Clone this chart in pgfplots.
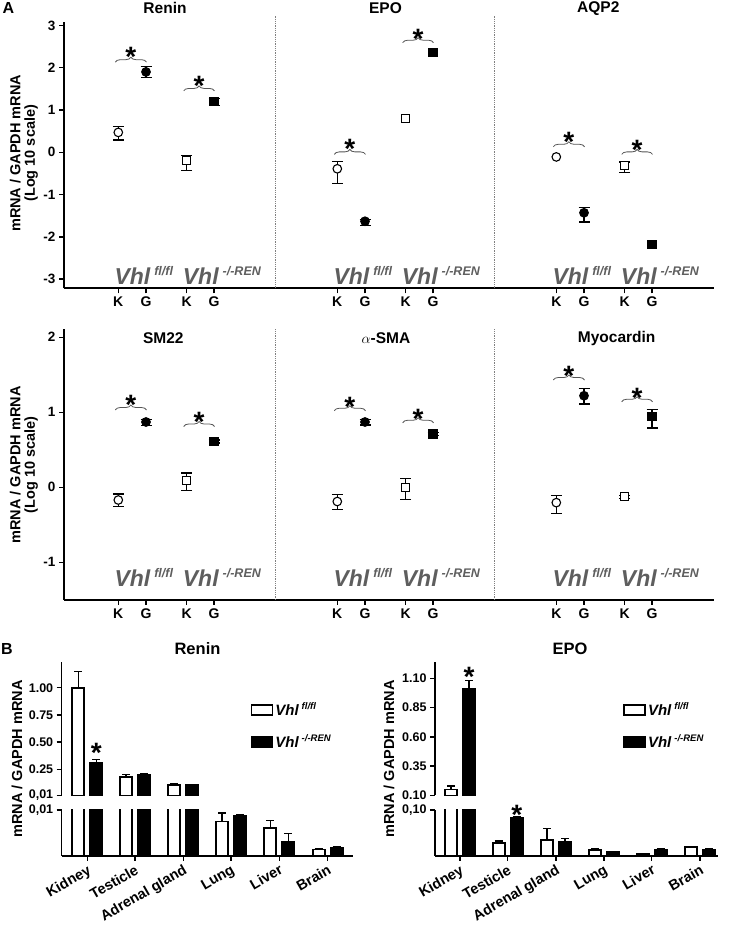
\documentclass[border=0pt]{standalone}
\usepackage{pgfplots}
\pgfplotsset{compat=1.18}
\usepackage{pgfplotstable}
\usepackage{fontspec}
\setmainfont{Liberation Sans}
\usetikzlibrary{decorations.pathreplacing}
\definecolor{vgray}{HTML}{5E5E5E}
\definecolor{bgray}{HTML}{555555}
\newcommand{\fs}[1]{\fontsize{#1}{#1}\selectfont}
\newcommand{\vhlA}[1]{\textcolor{vgray}{\bfseries\itshape\fs{23}Vhl\hspace{4pt}\raisebox{9pt}{\fs{12.5}#1}}}
\newcommand{\vhlB}[1]{\bfseries\itshape\fs{15}Vhl\hspace{3pt}\raisebox{6pt}{\fs{9.5}#1}}
\newcommand{\brk}[5]{%
  \draw[bgray, line width=0.8pt, decorate, decoration={brace, amplitude=5pt}] (axis cs:#1,#3) -- (axis cs:#2,#3);
  \node[anchor=base, yshift=-16pt, inner sep=0pt] at (axis cs:#5,#4) {\bfseries\fs{28}*};}

% ---- Panel A, top row (log10 mRNA/GAPDH) ----
\pgfplotstableread{
x y ep em
118.3 0.47 0.13 0.18
146 1.90 0.12 0.14
186.7 -0.20 0.13 0.24
214 1.21 0.06 0.11
337.3 -0.39 0.18 0.35
365 -1.63 0.04 0.11
584 -1.43 0.12 0.22
624.7 -0.32 0.09 0.16
}\errTop
\pgfplotstableread{
x y
118.3 0.47
337.3 -0.39
556.3 -0.11
}\ocTop
\pgfplotstableread{
x y
146 1.90
365 -1.63
584 -1.43
}\fcTop
\pgfplotstableread{
x y
186.7 -0.20
405.7 0.80
624.7 -0.32
}\osTop
\pgfplotstableread{
x y
214 1.21
433 2.35
652 -2.18
}\fsTop

% ---- Panel A, bottom row ----
\pgfplotstableread{
x y ep em
118.3 -0.17 0.08 0.09
146 0.87 0.03 0.05
186.7 0.09 0.10 0.13
214 0.61 0.02 0.02
337.3 -0.19 0.09 0.11
365 0.87 0.03 0.04
405.7 0.00 0.12 0.16
433 0.71 0.02 0.02
556.3 -0.205 0.09 0.145
584 1.22 0.10 0.11
624.7 -0.125 0.02 0.02
652 0.94 0.10 0.15
}\errBot
\pgfplotstableread{
x y
118.3 -0.17
337.3 -0.19
556.3 -0.205
}\ocBot
\pgfplotstableread{
x y
146 0.87
365 0.87
584 1.22
}\fcBot
\pgfplotstableread{
x y
186.7 0.09
405.7 0.00
624.7 -0.125
}\osBot
\pgfplotstableread{
x y
214 0.61
433 0.71
652 0.94
}\fsBot

% ---- Panel B (all bars, lower segment) ----
\pgfplotstableread{
x y e
87.3 1.00 0.147
135 0.183 0.022
183.3 0.105 0.013
231 0.0075 0.0018
279.3 0.0061 0.0016
327.7 0.0014 0.0002
}\reninW
\pgfplotstableread{
x y e
87.3 0.306 0.036
135 0.20 0.01
183.3 0.103 0.005
231 0.0087 0.0002
279.3 0.0030 0.0019
327.7 0.0018 0.0002
}\reninB
\pgfplotstableread{
x y e
460 0.151 0.028
507.7 0.0276 0.005
556 0.0348 0.025
604 0.013 0.002
651.7 0.0043 0.0005
700 0.019 0.002
}\epoW
\pgfplotstableread{
x y e
460 1.009 0.071
507.7 0.0833 0.002
556 0.0298 0.0087
604 0.0087 0.001
651.7 0.013 0.002
700 0.0137 0.002
}\epoB
% bars that reach the upper segment
\pgfplotstableread{
x y e
87.3 1.00 0.147
135 0.183 0.022
183.3 0.105 0.013
}\reninWu
\pgfplotstableread{
x y e
87.3 0.306 0.036
135 0.20 0.01
183.3 0.103 0.005
}\reninBu
\pgfplotstableread{
x y e
460 0.151 0.028
}\epoWu
\pgfplotstableread{
x y e
460 1.009 0.071
}\epoBu

\pgfplotsset{
  panelA/.style={scale only axis, width=650pt, axis lines*=left,
    axis line style={-, line width=1.6pt},
    tick align=outside, major tick length=5pt, tick style={line width=1.4pt, black},
    clip mode=individual, xmin=64, xmax=714,
    xtick={118.3,146,186.7,214,337.3,365,405.7,433,556.3,584,624.7,652},
    xticklabels={K,G,K,G,K,G,K,G,K,G,K,G},
    x tick label style={font=\bfseries\fs{14}},
    y tick label style={font=\bfseries\fs{13.5}}},
  errA/.style={only marks, mark=none, forget plot,
    error bars/.cd, y dir=both, y explicit,
    error bar style={line width=1.2pt, black},
    error mark options={rotate=90, mark size=5.5pt, line width=1.2pt, black}},
  oc/.style={only marks, mark=*, mark size=4.3pt, mark options={fill=white, draw=black, line width=1.1pt}},
  fc/.style={only marks, mark=*, mark size=4.3pt, mark options={fill=black, draw=black, line width=1.1pt}},
  os/.style={only marks, mark=square*, mark size=4pt, mark options={fill=white, draw=black, line width=1.1pt}},
  fsq/.style={only marks, mark=square*, mark size=4pt, mark options={fill=black, draw=black, line width=1.1pt}},
  panelB/.style={scale only axis, ybar, bar width=12pt,
    axis line style={-, line width=1.6pt},
    tick align=outside, major tick length=5pt, tick style={line width=1.4pt, black},
    clip mode=individual, scaled y ticks=false,
    y tick label style={font=\bfseries\fs{12.5}},
    error bars/y dir=plus, error bars/y explicit,
    error bars/error bar style={line width=1.5pt, black},
    error bars/error mark options={rotate=90, mark size=4pt, line width=1.5pt, black}},
  Bup/.style={panelB, axis x line=none, axis y line*=left, height=133.8pt},
  Blow/.style={panelB, axis lines*=left, height=46pt, ymin=0,
    x tick label style={rotate=30, anchor=north east, font=\bfseries\fs{14.5}, inner sep=2pt},
    xticklabels={Kidney,Testicle,Adrenal gland,Lung,Liver,Brain}},
  wbar/.style={fill=white, draw=black, line width=1.8pt, bar shift=-9pt, forget plot},
  bbar/.style={fill=black, draw=black, line width=1.8pt, bar shift=9pt, forget plot},
  Bleg/.style={legend image code/.code={\draw[##1, line width=1.6pt] (0pt,-5pt) rectangle (21pt,5pt);},
    legend style={draw=none, fill=none, inner sep=0pt, row sep=14pt,
      /tikz/every even column/.append style={column sep=8pt}},
    legend cell align=left}
}

\begin{document}
\begin{tikzpicture}[x=1pt,y=1pt]
\useasboundingbox (0,0) rectangle (728,925);

% ===== Panel A top row =====
\begin{axis}[panelA, at={(64pt,636.7pt)}, anchor=south west, height=266.3pt,
  ymin=-3.215, ymax=3.08, ytick={-3,-2,-1,0,1,2,3}, yticklabels={-3,-2,-1,0,1,2,3}]
\addplot[errA] table[x=x, y=y, y error plus=ep, y error minus=em] {\errTop};
\addplot[oc] table[x=x, y=y] {\ocTop};
\addplot[fc] table[x=x, y=y] {\fcTop};
\addplot[os] table[x=x, y=y] {\osTop};
\addplot[fsq] table[x=x, y=y] {\fsTop};
\brk{115.3}{146.5}{2.13}{2.41}{130.9}
\brk{183.7}{214.5}{1.45}{1.73}{199.1}
\brk{334.3}{365.5}{-0.05}{0.22}{349.9}
\brk{402.7}{433.5}{2.59}{2.84}{418.1}
\brk{553.3}{584.5}{0.13}{0.39}{568.9}
\brk{621.7}{652.5}{-0.05}{0.21}{637.1}
\node[anchor=base west, inner sep=0pt] at (axis cs:114.3,-3.12) {\vhlA{fl/fl}};
\node[anchor=base west, inner sep=0pt] at (axis cs:182.7,-3.12) {\vhlA{-/-REN}};
\node[anchor=base west, inner sep=0pt] at (axis cs:333.3,-3.12) {\vhlA{fl/fl}};
\node[anchor=base west, inner sep=0pt] at (axis cs:401.7,-3.12) {\vhlA{-/-REN}};
\node[anchor=base west, inner sep=0pt] at (axis cs:552.3,-3.12) {\vhlA{fl/fl}};
\node[anchor=base west, inner sep=0pt] at (axis cs:620.7,-3.12) {\vhlA{-/-REN}};
\end{axis}

% ===== Panel A bottom row =====
\begin{axis}[panelA, at={(64pt,325pt)}, anchor=south west, height=271pt,
  ymin=-1.503, ymax=2.11, ytick={-1,0,1,2}, yticklabels={-1,0,1,2}]
\addplot[errA] table[x=x, y=y, y error plus=ep, y error minus=em] {\errBot};
\addplot[oc] table[x=x, y=y] {\ocBot};
\addplot[fc] table[x=x, y=y] {\fcBot};
\addplot[os] table[x=x, y=y] {\osBot};
\addplot[fsq] table[x=x, y=y] {\fsBot};
\brk{115.3}{146.5}{1.03}{1.18}{130.9}
\brk{183.7}{214.5}{0.81}{0.95}{199.1}
\brk{334.3}{365.5}{1.02}{1.16}{349.9}
\brk{402.7}{433.5}{0.86}{0.99}{418.1}
\brk{553.3}{584.5}{1.43}{1.57}{568.9}
\brk{621.7}{652.5}{1.14}{1.27}{637.1}
\node[anchor=base west, inner sep=0pt] at (axis cs:114.3,-1.325) {\vhlA{fl/fl}};
\node[anchor=base west, inner sep=0pt] at (axis cs:182.7,-1.325) {\vhlA{-/-REN}};
\node[anchor=base west, inner sep=0pt] at (axis cs:333.3,-1.325) {\vhlA{fl/fl}};
\node[anchor=base west, inner sep=0pt] at (axis cs:401.7,-1.325) {\vhlA{-/-REN}};
\node[anchor=base west, inner sep=0pt] at (axis cs:552.3,-1.325) {\vhlA{fl/fl}};
\node[anchor=base west, inner sep=0pt] at (axis cs:620.7,-1.325) {\vhlA{-/-REN}};
\end{axis}

% separators
\draw[gray, line width=0.8pt, densely dotted] (275.7,636.7) -- (275.7,910);
\draw[gray, line width=0.8pt, densely dotted] (494.3,636.7) -- (494.3,910);
\draw[gray, line width=0.8pt, densely dotted] (275.7,325) -- (275.7,596);
\draw[gray, line width=0.8pt, densely dotted] (494.3,325) -- (494.3,596);

% ===== Panel B Renin =====
\begin{axis}[Bup, Bleg, at={(61.7pt,129.5pt)}, anchor=south west, width=291pt,
  xmin=61.7, xmax=352.7, ymin=0.01, ymax=1.239,
  ytick={0.01,0.25,0.5,0.75,1}, yticklabels={{0,01},0.25,0.50,0.75,1.00},
  legend style={at={(0.649,0.71)}, anchor=north west}]
\addplot[wbar] table[x=x, y=y, y error plus=e] {\reninWu};
\addplot[bbar] table[x=x, y=y, y error plus=e] {\reninBu};
\addlegendimage{fill=white, draw=black}
\addlegendentry{\vhlB{fl/fl}}
\addlegendimage{fill=black, draw=black}
\addlegendentry{\vhlB{-/-REN}}
\node[anchor=base, yshift=-16pt, inner sep=0pt] at (axis cs:96.3,0.458) {\bfseries\fs{28}*};
\end{axis}
\begin{axis}[Blow, at={(61.7pt,69pt)}, anchor=south west, width=291pt,
  xmin=61.7, xmax=352.7, ymax=0.01,
  xtick={87.3,135,183.3,231,279.3,327.7},
  ytick={0.01}, yticklabel={0,01}]
\addplot[wbar] table[x=x, y=y, y error plus=e] {\reninW};
\addplot[bbar] table[x=x, y=y, y error plus=e] {\reninB};
\end{axis}

% ===== Panel B EPO =====
\begin{axis}[Bup, Bleg, at={(435pt,129.5pt)}, anchor=south west, width=283pt,
  xmin=435, xmax=718, ymin=0.1, ymax=1.241,
  ytick={0.1,0.35,0.6,0.85,1.1}, yticklabels={0.10,0.35,0.60,0.85,1.10},
  legend style={at={(0.665,0.71)}, anchor=north west}]
\addplot[wbar] table[x=x, y=y, y error plus=e] {\epoWu};
\addplot[bbar] table[x=x, y=y, y error plus=e] {\epoBu};
\addlegendimage{fill=white, draw=black}
\addlegendentry{\vhlB{fl/fl}}
\addlegendimage{fill=black, draw=black}
\addlegendentry{\vhlB{-/-REN}}
\node[anchor=base, yshift=-16pt, inner sep=0pt] at (axis cs:469,1.17) {\bfseries\fs{28}*};
\end{axis}
\begin{axis}[Blow, at={(435pt,69pt)}, anchor=south west, width=283pt,
  xmin=435, xmax=718, ymax=0.1,
  xtick={460,507.7,556,604,651.7,700},
  ytick={0.1}, yticklabel={0,10}]
\addplot[wbar] table[x=x, y=y, y error plus=e] {\epoW};
\addplot[bbar] table[x=x, y=y, y error plus=e] {\epoB};
\node[anchor=base, yshift=-16pt, inner sep=0pt] at (axis cs:516.7,0.104) {\bfseries\fs{28}*};
\end{axis}

% ===== Titles and labels =====
\node[font=\bfseries\fs{16}] at (8.3,916.7) {A};
\node[font=\bfseries\fs{16}] at (7,276) {B};
\node[font=\bfseries\fs{15.5}] at (165,916.7) {Renin};
\node[font=\bfseries\fs{15.5}] at (385.5,916.7) {EPO};
\node[font=\bfseries\fs{15.5}] at (598.3,916.7) {AQP2};
\node[font=\bfseries\fs{15.5}] at (163.3,586.7) {SM22};
\node[font=\bfseries\fs{15.5}] at (386,586.7) {$\alpha$-SMA};
\node[font=\bfseries\fs{15.5}] at (616.7,586.7) {Myocardin};
\node[font=\bfseries\fs{16.5}] at (197.5,276) {Renin};
\node[font=\bfseries\fs{16.5}] at (570,276) {EPO};
\node[rotate=90, align=center, font=\bfseries\fs{14.5}] at (24,771.7) {mRNA / GAPDH mRNA\\[0pt](Log 10 scale)};
\node[rotate=90, align=center, font=\bfseries\fs{14.5}] at (24,460) {mRNA / GAPDH mRNA\\[0pt](Log 10 scale)};
\node[rotate=90, font=\bfseries\fs{14.5}] at (17,166) {mRNA / GAPDH mRNA};
\node[rotate=90, font=\bfseries\fs{14.5}] at (389,166) {mRNA / GAPDH mRNA};
\end{tikzpicture}
\end{document}
